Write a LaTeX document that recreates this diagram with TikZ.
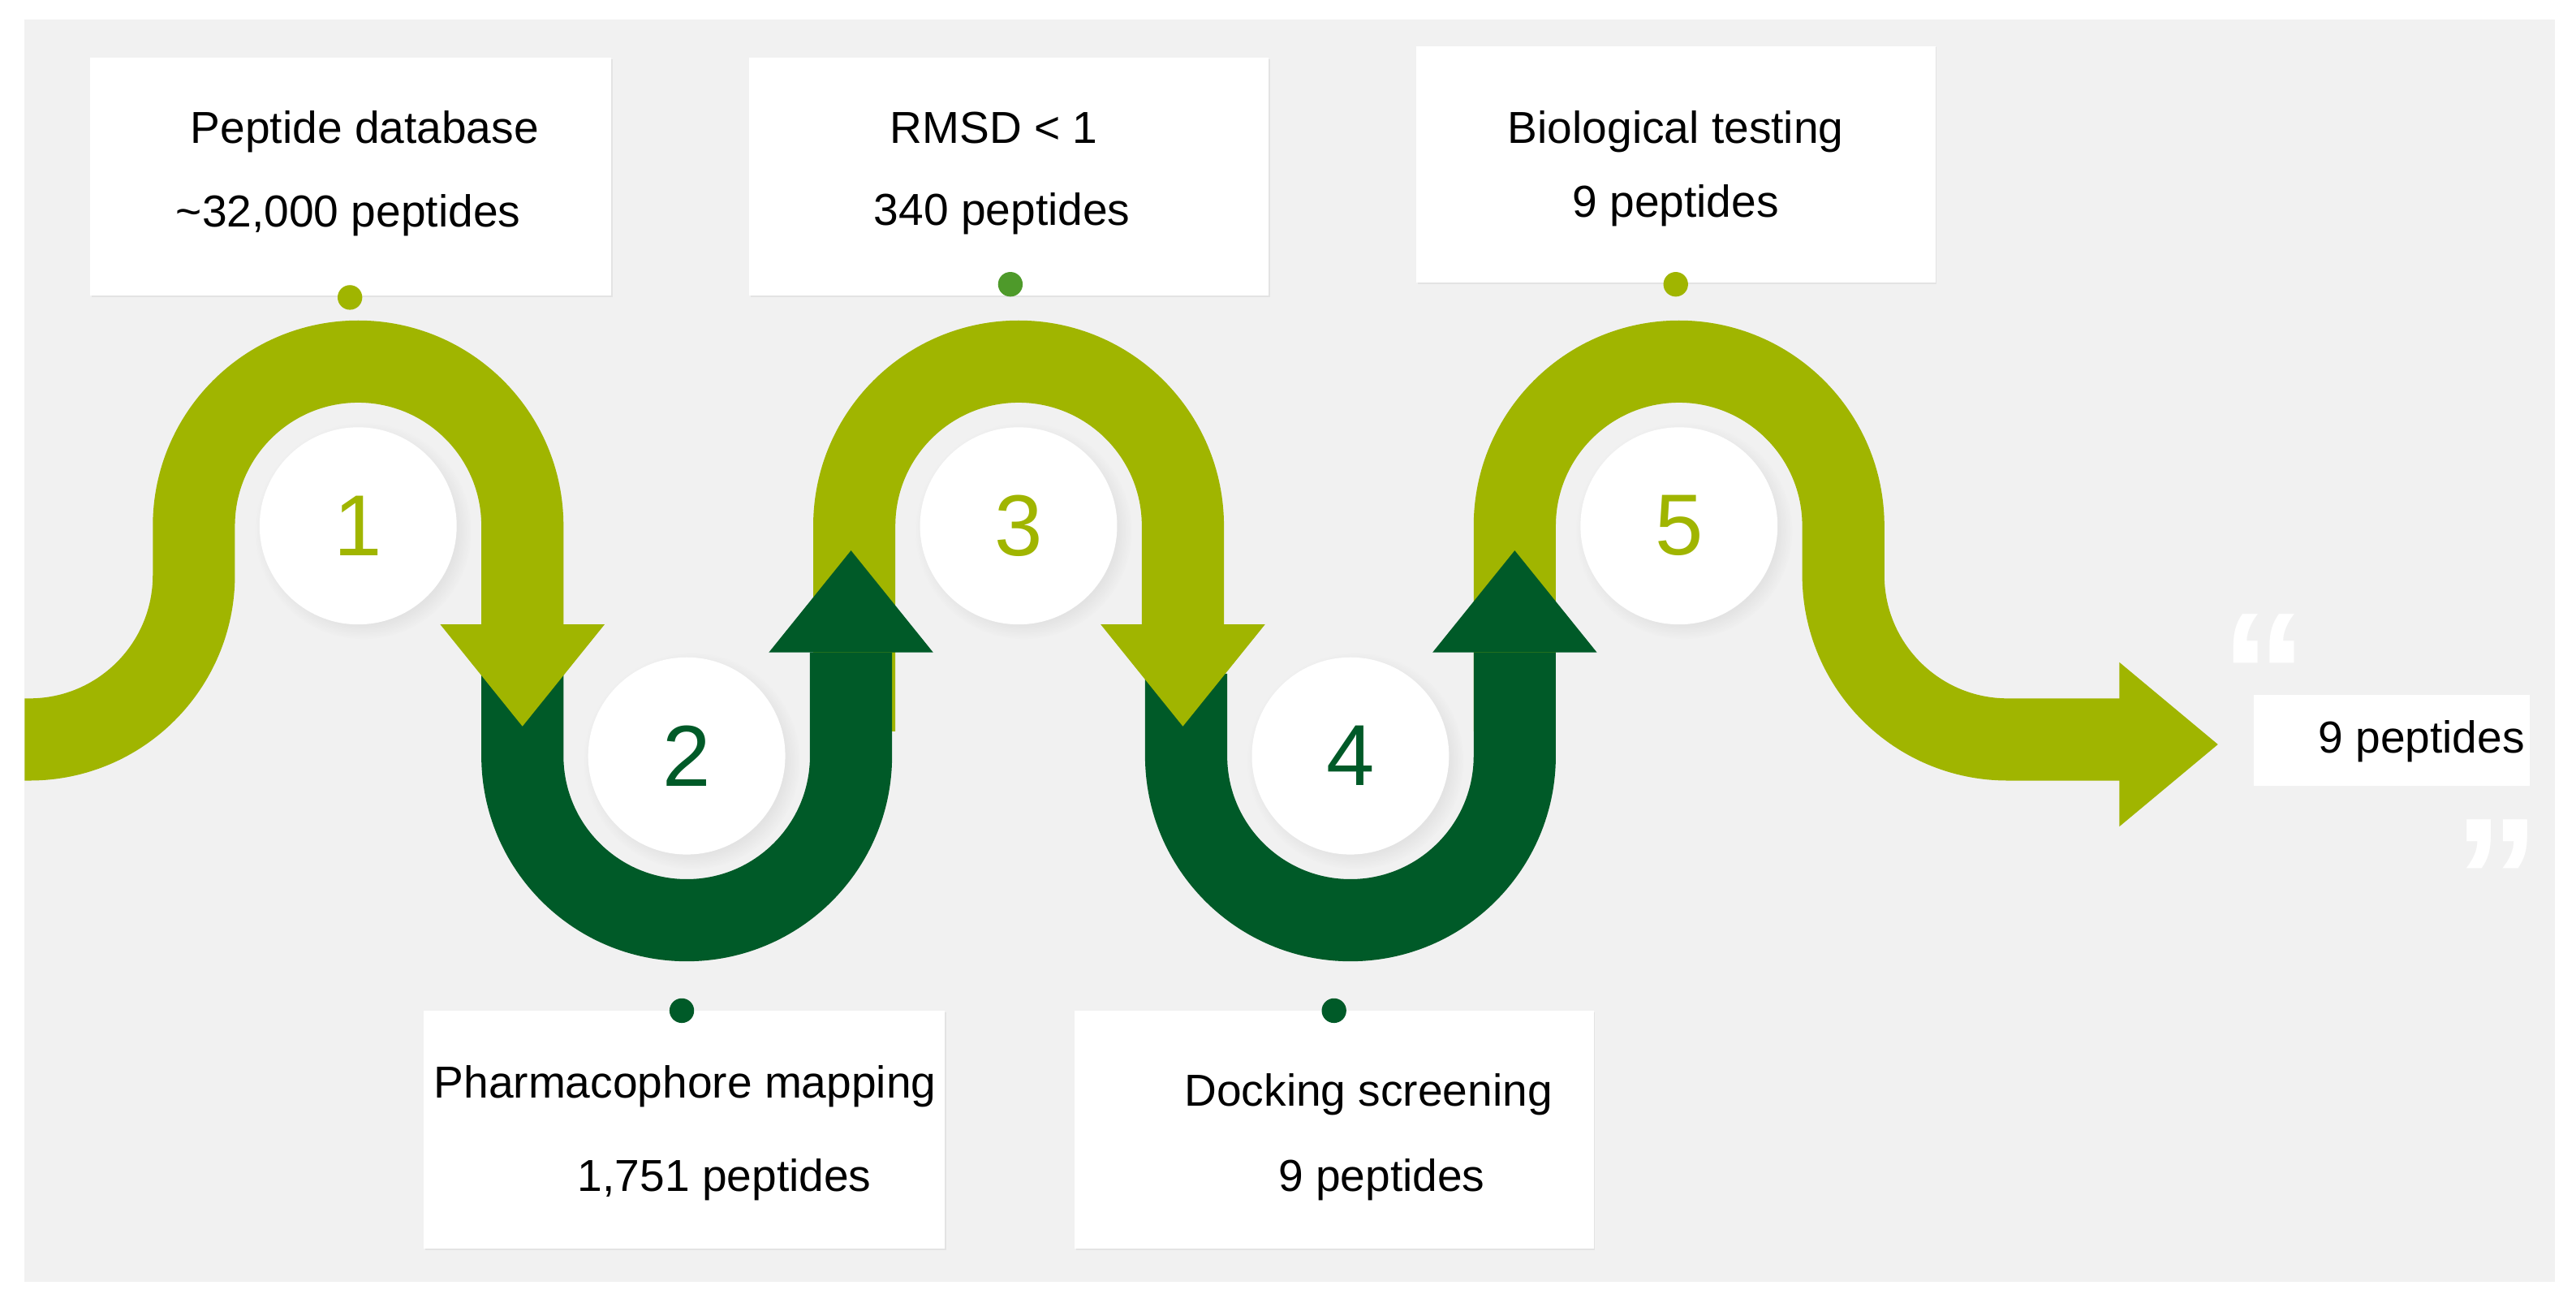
\documentclass[tikz,border=0pt]{standalone}
\usepackage{fontspec}
\setmainfont{Liberation Sans}
\usetikzlibrary{shadows}
\definecolor{lg}{HTML}{A0B500}
\definecolor{dg}{HTML}{005A28}
\definecolor{bg}{HTML}{F1F1F1}
\definecolor{mg}{HTML}{4E9A2A}
\begin{document}
\begin{tikzpicture}[x=0.02cm,y=-0.02cm,
  band/.style={line width=1cm,line cap=butt},
  box/.style={fill=white,draw=none,drop shadow={opacity=0.12,shadow xshift=0.5pt,shadow yshift=-0.5pt}},
  lbl/.style={font=\fontsize{15.5}{18}\selectfont},
  num/.style={circle,fill=white,minimum size=2.4cm,inner sep=0pt,font=\fontsize{30}{34}\selectfont,circular drop shadow={opacity=0.12}},
  dot/.style={circle,inner sep=0pt,minimum size=0.3cm}]
\useasboundingbox (0,0) rectangle (1568,795);
\fill[white] (0,0) rectangle (1568,795);
\fill[bg] (15,12) rectangle (1555,780);
% light bands
\draw[band,lg] (15,450) -- (18,450) arc[start angle=90,end angle=0,radius=100] -- (118,320) arc[start angle=180,end angle=360,radius=100] -- (318,382);
\draw[band,lg] (520,445) -- (520,320) arc[start angle=180,end angle=360,radius=100] -- (720,382);
\draw[band,lg] (922,445) -- (922,320) arc[start angle=180,end angle=360,radius=100] -- (1122,350) arc[start angle=180,end angle=90,radius=100] -- (1292,450);
% dark bands
\draw[band,dg] (318,410) -- (318,460) arc[start angle=180,end angle=0,radius=100] -- (518,397);
\draw[band,dg] (722,410) -- (722,460) arc[start angle=180,end angle=0,radius=100] -- (922,397);
% arrowheads
\fill[lg] (268,380) -- (368,380) -- (318,442) -- cycle;
\fill[dg] (468,397) -- (568,397) -- (518,335) -- cycle;
\fill[lg] (670,380) -- (770,380) -- (720,442) -- cycle;
\fill[dg] (872,397) -- (972,397) -- (922,335) -- cycle;
\fill[lg] (1290,403) -- (1290,503) -- (1350,453) -- cycle;
% circles
\node[num,text=lg] (c1) at (218,320) {1};
\node[num,text=dg] (c2) at (418,460) {2};
\node[num,text=lg] (c3) at (620,320) {3};
\node[num,text=dg] (c4) at (822,460) {4};
\node[num,text=lg] (c5) at (1022,320) {5};
% boxes
\fill[box] (55,35) rectangle (372,180);
\fill[box] (456,35) rectangle (772,180);
\fill[box] (862,28) rectangle (1178,172);
\fill[box] (258,615) rectangle (575,760);
\fill[box] (654,615) rectangle (970,760);
\fill[white] (1372,423) rectangle (1540,478);
\node[lbl] (t1a) at (222,80) {Peptide database};
\node[lbl] (t1b) at (212,131) {\textasciitilde32,000 peptides};
\node[lbl] (t3a) at (605,78) {RMSD < 1};
\node[lbl] (t3b) at (610,130) {340 peptides};
\node[lbl] (t5a) at (1020,80) {Biological testing};
\node[lbl] (t5b) at (1020,125) {9 peptides};
\node[lbl] (t2a) at (417,661) {Pharmacophore mapping};
\node[lbl] (t2b) at (441,718) {1,751 peptides};
\node[lbl] (t4a) at (833,666) {Docking screening};
\node[lbl] (t4b) at (841,718) {9 peptides};
\node[lbl] (t6) at (1474,451) {9 peptides};
\node[font=\fontsize{60}{60}\selectfont\bfseries,text=white] (q1) at (1378,410) {“};
\node[font=\fontsize{60}{60}\selectfont\bfseries,text=white] (q2) at (1520,535) {”};
% dots
\node[dot,fill=lg] (d1) at (213,181) {};
\node[dot,fill=mg] (d3) at (615,173) {};
\node[dot,fill=lg] (d5) at (1020,173) {};
\node[dot,fill=dg] (d2) at (415,615) {};
\node[dot,fill=dg] (d4) at (812,615) {};
\end{tikzpicture}
\end{document}
